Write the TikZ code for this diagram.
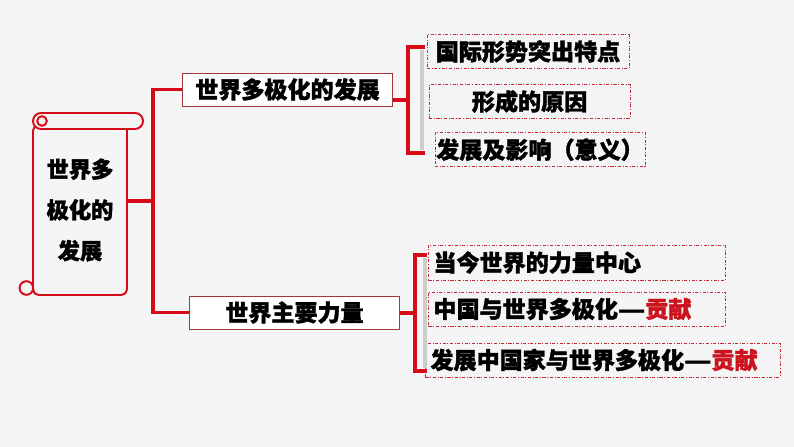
\documentclass[tikz,border=0pt]{standalone}
\usepackage{fontspec}
\usepackage{xcolor}
\usepackage{graphicx}
\newfontfamily\cjk{Noto Sans CJK SC}[BoldFeatures={FakeBold=1.6}]
\newcommand{\longdash}{\scalebox{1.3}[1]{—}}
\usetikzlibrary{positioning}
\definecolor{bgcol}{RGB}{245,245,245}
\definecolor{mainred}{RGB}{214,12,24}
\definecolor{boxred}{RGB}{165,55,60}
\definecolor{leafred}{RGB}{200,40,55}
\definecolor{wordred}{RGB}{205,20,30}

\begin{document}
\begin{tikzpicture}[
  x=1cm, y=-1cm,
  node distance=0.35cm,
  scrollbox/.style={draw=mainred, line width=1.4pt, fill=bgcol, rounded corners=4pt, minimum width=2.35cm, minimum height=4.25cm, align=center, font=\cjk\bfseries\fontsize{15.8pt}{29pt}\selectfont},
  scrollline/.style={draw=mainred, line width=1.4pt},
  branch/.style={draw=boxred, line width=0.6pt, fill=white, minimum width=5.25cm, minimum height=0.825cm, inner sep=0pt, font=\cjk\bfseries\fontsize{16.4pt}{20pt}\selectfont},
  leaf/.style={draw=leafred, line width=0.7pt, dash pattern=on 2.2pt off 1.2pt on 0.6pt off 1.2pt, minimum height=0.85cm, inner sep=0pt, font=\cjk\bfseries\fontsize{16.4pt}{20pt}\selectfont},
  leftleaf/.style={leaf, anchor=west, inner xsep=0.125cm, align=left},
  link/.style={draw=mainred, line width=2.2pt},
  shade/.style={draw=gray!40, line width=2.5pt}
]
\useasboundingbox (0,0) rectangle (19.85,11.175);
\fill[bgcol] (0,0) rectangle (19.85,11.175);

% scroll with the title
\node[scrollbox] (scroll) at (2.0,5.25) {世界多\\极化的\\发展};
\draw[scrollline, fill=bgcol, rounded corners=0.2cm] (0.825,2.825) rectangle (3.575,3.225);
\draw[scrollline] (1.05,3.025) circle (0.12cm);
\draw[scrollline, fill=bgcol] (0.66,7.2) circle (0.17cm);

% two branches
\node[branch] (branchA) at (7.1875,2.2375) {世界多极化的发展};
\node[branch] (branchB) at (7.3625,7.8125) {世界主要力量};

\coordinate (fork) at (3.825,5.025);
\draw[link] (scroll.east |- fork) -- (fork);
\draw[link] (branchA.west) -| (fork) |- (branchB.west);

% first group of leaves
\node[leaf, minimum width=5.05cm] (leafA1) at (13.2,1.2875) {国际形势突出特点};
\node[leaf, minimum width=5.025cm, below=0.375cm of leafA1, xshift=0.04cm] (leafA2) {形成的原因};
\node[leaf, minimum width=5.25cm, below=0.33cm of leafA2, xshift=0.26cm] (leafA3) {发展及影响（意义）};

\coordinate (hubA) at (10.2,2.5);
\coordinate (topA) at (10.625,1.175);
\coordinate (botA) at (10.625,3.825);
\draw[shade] (10.55,1.25) -- (10.55,3.75);
\draw[link] (branchA.east |- hubA) -- (hubA);
\draw[link] (topA) -| (hubA) |- (botA);

% second group of leaves
\node[leftleaf, text width=7.175cm, minimum height=0.875cm] (leafB1) at (10.7,6.5625) {当今世界的力量中心};
\node[leftleaf, text width=7.175cm] (leafB2) at (10.7,7.725) {中国与世界多极化\longdash\textcolor{wordred}{贡献}};
\node[leftleaf, text width=8.625cm] (leafB3) at (10.625,9.0) {发展中国家与世界多极化\longdash\textcolor{wordred}{贡献}};

\coordinate (hubB) at (10.375,7.825);
\coordinate (topB) at (10.675,6.375);
\coordinate (botB) at (10.675,9.275);
\draw[shade] (10.63,6.45) -- (10.63,9.2);
\draw[link] (branchB.east |- hubB) -- (hubB);
\draw[link] (topB) -| (hubB) |- (botB);
\end{tikzpicture}
\end{document}
